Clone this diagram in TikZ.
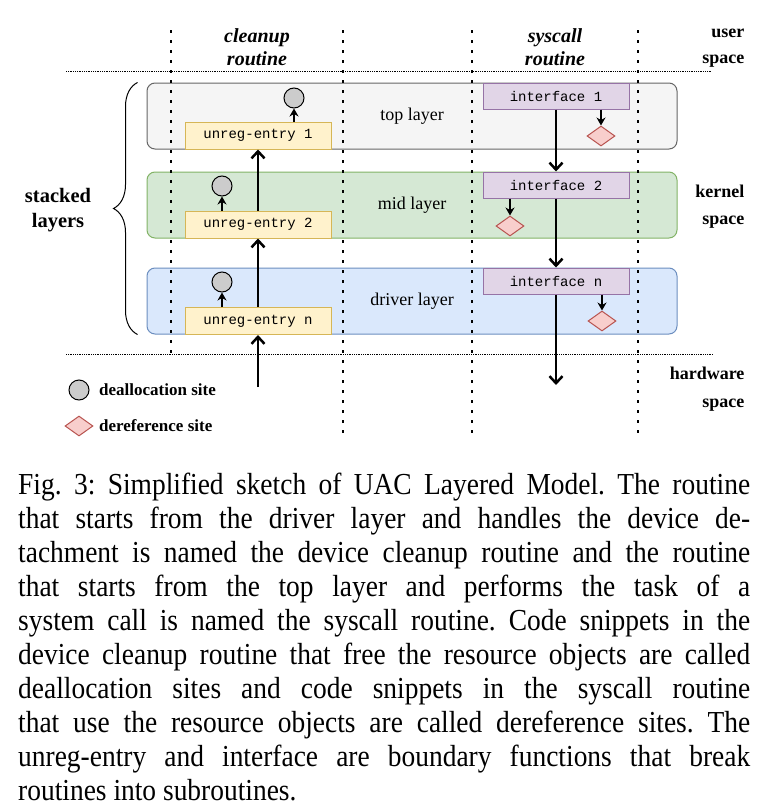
\documentclass[tikz,border=0pt]{standalone}
\usepackage{fontspec}
\setmainfont{Liberation Serif}
\setmonofont{Liberation Mono}
\newfontfamily\capfont[FakeStretch=0.9]{Liberation Serif}
\usepackage{xcolor}
\usepackage{tikz}
\usetikzlibrary{arrows.meta}
\usetikzlibrary{shapes.geometric}
\usetikzlibrary{decorations.pathreplacing}
\definecolor{topfill}{HTML}{F5F5F5}
\definecolor{topline}{HTML}{666666}
\definecolor{midfill}{HTML}{D5E8D4}
\definecolor{midline}{HTML}{82B366}
\definecolor{drvfill}{HTML}{DAE8FC}
\definecolor{drvline}{HTML}{6C8EBF}
\definecolor{unregfill}{HTML}{FFF2CC}
\definecolor{unregline}{HTML}{D6B656}
\definecolor{ifcfill}{HTML}{E1D5E7}
\definecolor{ifcline}{HTML}{9673A6}
\definecolor{dereffill}{HTML}{F8CECC}
\definecolor{derefline}{HTML}{B85450}
\definecolor{deallocfill}{HTML}{CCCCCC}
\tikzstyle{layer} = [rectangle, rounded corners=8pt, line width=1pt, minimum width=530pt, minimum height=66pt, font=\fontsize{18}{20}\selectfont]
\tikzstyle{unreg} = [rectangle, draw=unregline, fill=unregfill, line width=1pt, minimum width=146pt, minimum height=27pt, inner sep=0pt, font=\ttfamily\fontsize{14}{16}\selectfont]
\tikzstyle{ifc} = [rectangle, draw=ifcline, fill=ifcfill, line width=1pt, minimum width=146pt, minimum height=26pt, inner sep=0pt, font=\ttfamily\fontsize{14}{16}\selectfont]
\tikzstyle{dealloc} = [circle, draw=black, fill=deallocfill, line width=1pt, minimum size=20pt, inner sep=0pt]
\tikzstyle{deref} = [diamond, draw=derefline, fill=dereffill, line width=1pt, minimum width=28pt, minimum height=20pt, inner sep=0pt]
\tikzstyle{flow} = [-{Straight Barb[length=7pt, width=13pt]}, line width=2.5pt]
\tikzstyle{site} = [-{Stealth[length=8pt, width=9pt]}, line width=1.2pt]
\tikzstyle{sep} = [line width=2.6pt, dash pattern=on 2.6pt off 7.4pt]
\tikzstyle{bound} = [line width=0.8pt, densely dotted]
\tikzstyle{routinelbl} = [align=center, font=\bfseries\itshape\fontsize{20}{23}\selectfont]
\tikzstyle{spacelbl} = [anchor=east, align=right, font=\bfseries\fontsize{18}{27}\selectfont]
\tikzstyle{legendlbl} = [anchor=west, inner sep=0pt, font=\bfseries\fontsize{17}{20}\selectfont]

\begin{document}
\begin{tikzpicture}[x=1pt, y=-1pt]
\useasboundingbox (0, 0) rectangle (768, 811);
% stacked layers
\node [layer, draw=topline, fill=topfill] (top) at (412, 116) {top layer};
\node [layer, draw=midline, fill=midfill] (mid) at (412, 205) {mid layer};
\node [layer, draw=drvline, fill=drvfill] (drv) at (412, 301) {driver layer};
\draw [decorate, decoration={brace, amplitude=24pt}, line width=1pt] ([xshift=-9pt]drv.south west) -- ([xshift=-9pt]top.north west);
\node [align=center, font=\bfseries\fontsize{20.5}{25}\selectfont] (stack) at (58, 210) {stacked\\layers};
% routine separators and space boundaries
\draw [sep] (171, 30) -- (171, 358);
\draw [sep] (343, 30) -- (343, 437);
\draw [sep] (472, 30) -- (472, 437);
\draw [sep] (638, 30) -- (638, 437);
\draw [bound] (66, 71) -- (711, 71);
\draw [bound] (66, 354) -- (713, 354);
% cleanup routine
\node [unreg] (u1) at (258, 135.5) {unreg-entry 1};
\node [unreg] (u2) at (258, 224.5) {unreg-entry 2};
\node [unreg] (u3) at (258, 321) {unreg-entry n};
\node [dealloc] (d1) at (294, 98) {};
\node [dealloc] (d2) at (222, 186) {};
\node [dealloc] (d3) at (222, 282) {};
\coordinate (cstart) at (258, 387);
\draw [flow] (cstart) to (u3.south);
\draw [flow] (u3.north) to (u2.south);
\draw [flow] (u2.north) to (u1.south);
\draw [site] (d1 |- u1.north) to (d1.south);
\draw [site] (d2 |- u2.north) to (d2.south);
\draw [site] (d3 |- u3.north) to (d3.south);
% syscall routine
\node [ifc] (i1) at (556, 96) {interface 1};
\node [ifc] (i2) at (556, 185) {interface 2};
\node [ifc] (i3) at (556, 281) {interface n};
\node [deref] (r1) at (601, 136) {};
\node [deref] (r2) at (510, 226) {};
\node [deref] (r3) at (602, 321) {};
\coordinate (send) at (556, 385);
\draw [flow] (i1.south) to (i2.north);
\draw [flow] (i2.south) to (i3.north);
\draw [flow] (i3.south) to (send);
\draw [site] (r1 |- i1.south) to (r1.north);
\draw [site] (r2 |- i2.south) to (r2.north);
\draw [site] (r3 |- i3.south) to (r3.north);
% headings
\node [routinelbl] (hclean) at (257, 47) {cleanup\\routine};
\node [routinelbl] (hsys) at (555, 47) {syscall\\routine};
\node [spacelbl, font=\bfseries\fontsize{18}{26}\selectfont] (user) at (748, 48) {user\\space};
\node [spacelbl] (kernel) at (748, 207) {kernel\\space};
\node [spacelbl, font=\bfseries\fontsize{18}{28}\selectfont] (hw) at (748, 389) {hardware\\space};
% legend
\node [dealloc] (ldealloc) at (79, 390) {};
\node [legendlbl] (tdealloc) at (99, 390) {deallocation site};
\node [deref] (lderef) at (79, 426) {};
\node [legendlbl] (tderef) at (99, 426) {dereference site};
% caption
\node [anchor=north west, inner sep=0pt, text width=732pt, align=justify, font=\capfont\fontsize{30.5}{34}\selectfont\frenchspacing] (caption) at (18, 473) {Fig. 3: Simplified sketch of UAC Layered Model. The routine\linebreak
that starts from the driver layer and handles the device de-\linebreak
tachment is named the device cleanup routine and the routine\linebreak
that starts from the top layer and performs the task of a\linebreak
system call is named the syscall routine. Code snippets in the\linebreak
device cleanup routine that free the resource objects are called\linebreak
deallocation sites and code snippets in the syscall routine\linebreak
that use the resource objects are called dereference sites. The\linebreak
unreg-entry and interface are boundary functions that break\linebreak
routines into subroutines.};
\end{tikzpicture}
\end{document}
